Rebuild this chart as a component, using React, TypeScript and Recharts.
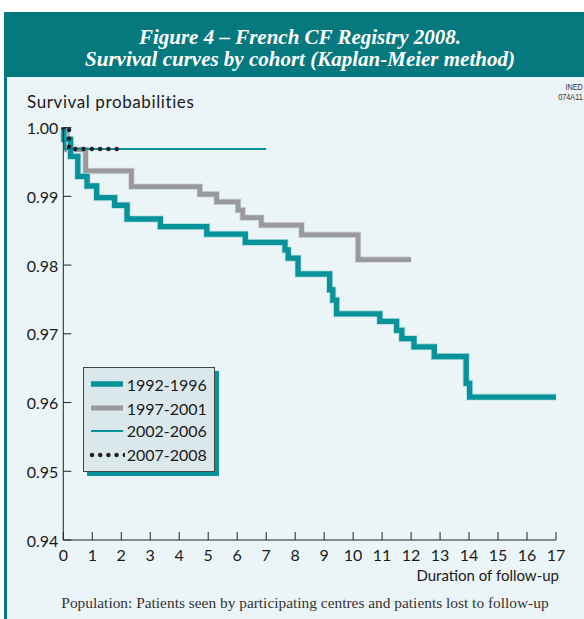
import { LineChart, Line, XAxis, YAxis } from 'recharts'

// follow-up years and survival probabilities
const years = [0, 1, 2, 3, 4, 5, 6, 7, 8, 9, 10, 11, 12, 13, 14, 15, 16, 17]
const probTicks = [0.94, 0.95, 0.96, 0.97, 0.98, 0.99, 1.0]

const t9296 = [0, 0.02, 0.25, 0.5, 0.82, 1.15, 1.77, 2.2, 3.35, 4.95, 6.28, 7.65, 7.76, 8.1, 9.19, 9.3, 9.43, 10.92, 11.5, 11.68, 12.1, 12.8, 13.9, 14.02, 17]
const s9296 = [1.0, 0.9983, 0.9958, 0.9929, 0.9915, 0.9898, 0.9887, 0.9867, 0.9856, 0.9845, 0.9833, 0.9822, 0.981, 0.9787, 0.9764, 0.9749, 0.9729, 0.9718, 0.9705, 0.9693, 0.9681, 0.9667, 0.9628, 0.9608, 0.9608]

const t9701 = [0, 0.12, 0.77, 2.35, 4.71, 5.29, 6.03, 6.19, 6.83, 8.22, 10.17, 12]
const s9701 = [1.0, 0.9968, 0.9937, 0.9914, 0.9903, 0.9892, 0.988, 0.9869, 0.9858, 0.9844, 0.9808, 0.9808]

const t0206 = [0, 0.05, 7]
const s0206 = [1.0, 0.9969, 0.9969]

const t0708 = [0, 0.2, 1.85]
const s0708 = [1.0, 0.9969, 0.9969]

const toRows = (t: number[], s: number[]) => t.map((x, i) => ({ t: x, s: s[i] }))

const TEAL = '#08929a'
const GREY = '#9a9a9e'
const HEAD = '#06797f'
const PANEL = '#ebf4f7'
const sans = 'Lato, "Noto Sans", sans-serif'

const BottomTick = (p: any) => (
  <g>
    <line x1={p.x} y1={p.y} x2={p.x} y2={p.y - 8} stroke="#222" strokeWidth={1} />
    <text x={p.x} y={p.y + 14} textAnchor="middle" dominantBaseline="central" fontSize={16} fontFamily={sans} fill="#1a1a1a">
      {p.payload.value}
    </text>
  </g>
)
const TopTick = (p: any) => <line x1={p.x} y1={p.y} x2={p.x} y2={p.y + 8} stroke="#222" strokeWidth={1} />
const LeftTick = (p: any) => (
  <g>
    <line x1={p.x} y1={p.y} x2={p.x + 8} y2={p.y} stroke="#222" strokeWidth={1} />
    <text x={p.x - 5} y={p.y} textAnchor="end" dominantBaseline="central" fontSize={16} fontFamily={sans} fill="#1a1a1a">
      {p.payload.value.toFixed(2)}
    </text>
  </g>
)
const RightTick = (p: any) => <line x1={p.x} y1={p.y} x2={p.x - 8} y2={p.y} stroke="#555" strokeWidth={1.2} />

function LegendRow({ y, label, kind }: { y: number; label: string; kind: string }) {
  return (
    <div style={{ position: 'absolute', left: 5, top: y - 10, height: 20, display: 'flex', alignItems: 'center' }}>
      <svg width={36} height={20}>
        {kind === 'thick' && <line x1={2} y1={10} x2={34} y2={10} stroke={TEAL} strokeWidth={5.5} />}
        {kind === 'grey' && <line x1={2} y1={10} x2={34} y2={10} stroke={GREY} strokeWidth={5} />}
        {kind === 'thin' && <line x1={2} y1={10} x2={34} y2={10} stroke={TEAL} strokeWidth={2} />}
        {kind === 'dots' && (
          <line x1={3} y1={10} x2={36} y2={10} stroke="#222" strokeWidth={4.5} strokeLinecap="round" strokeDasharray="0 8.2" />
        )}
      </svg>
      <span style={{ fontFamily: sans, fontSize: 16, color: '#1a1a1a', marginLeft: 2 }}>{label}</span>
    </div>
  )
}

export default function App() {
  return (
    <div style={{ position: 'absolute', left: 0, top: 0, width: 584, height: 619, background: '#fff', overflow: 'hidden' }}>
      <div style={{ position: 'absolute', left: 4, top: 12, width: 600, height: 620, background: HEAD }} />
      <div style={{ position: 'absolute', left: 7, top: 77, width: 600, height: 560, background: PANEL }} />
      <div
        style={{
          position: 'absolute', left: 0, top: 26, width: 600, textAlign: 'center', color: '#fff',
          fontFamily: '"Liberation Serif", serif', fontStyle: 'italic', fontWeight: 'bold', fontSize: 21, lineHeight: '22px',
        }}
      >
        Figure 4 – French CF Registry 2008.
        <br />
        Survival curves by cohort (Kaplan-Meier method)
      </div>
      <div style={{ position: 'absolute', right: 1, top: 82, textAlign: 'right', fontFamily: '"Liberation Sans", sans-serif', fontSize: 8.5, lineHeight: '10px', color: '#333', transform: 'scaleX(0.85)', transformOrigin: 'right' }}>
        INED
        <br />
        074A11
      </div>
      <div style={{ position: 'absolute', left: 27, top: 91, fontFamily: sans, fontSize: 17, letterSpacing: 0.6, color: '#1a1a1a' }}>Survival probabilities</div>
      <div style={{ position: 'absolute', right: 25, top: 566, fontFamily: sans, fontSize: 15, color: '#1a1a1a' }}>Duration of follow-up</div>
      <div style={{ position: 'absolute', left: 0, width: 610, top: 594, textAlign: 'center', fontFamily: '"Liberation Serif", serif', fontSize: 15.4, color: '#333' }}>
        Population: Patients seen by participating centres and patients lost to follow-up
      </div>

      <div style={{ position: 'absolute', left: 0, top: 0 }}>
        <LineChart width={584} height={619} margin={{ top: 127.6, right: 28, left: 0, bottom: 0 }}>
          <XAxis xAxisId="b" type="number" dataKey="t" domain={[0, 17]} ticks={years} height={79} interval={0}
            axisLine={{ stroke: '#222', strokeWidth: 1 }} tickLine={false} tickSize={0} tickMargin={0} tick={BottomTick} />
          <XAxis xAxisId="top" orientation="top" type="number" dataKey="t" domain={[0, 17]} ticks={years} height={0} interval={0}
            axisLine={{ stroke: '#222', strokeWidth: 1 }} tickLine={false} tickSize={0} tickMargin={0} tick={TopTick} />
          <YAxis yAxisId="l" type="number" domain={[0.94, 1.0]} ticks={probTicks} width={63.3} interval={0} allowDataOverflow
            axisLine={{ stroke: '#222', strokeWidth: 1 }} tickLine={false} tickSize={0} tickMargin={0} tick={LeftTick} />
          <YAxis yAxisId="r" orientation="right" type="number" domain={[0.94, 1.0]} ticks={probTicks} width={0} interval={0}
            axisLine={{ stroke: '#808080', strokeWidth: 2 }} tickLine={false} tickSize={0} tickMargin={0} tick={RightTick} />

          <Line xAxisId="b" yAxisId="l" data={toRows(t9701, s9701)} dataKey="s" type="stepAfter" stroke="#d6d8da" strokeWidth={6.5} dot={false} isAnimationActive={false} />
          <Line xAxisId="b" yAxisId="l" data={toRows(t9701, s9701)} dataKey="s" type="stepAfter" stroke={GREY} strokeWidth={4.8} dot={false} isAnimationActive={false} />
          <Line xAxisId="b" yAxisId="l" data={toRows(t9296, s9296)} dataKey="s" type="stepAfter" stroke="#b8e0e2" strokeWidth={7} dot={false} isAnimationActive={false} />
          <Line xAxisId="b" yAxisId="l" data={toRows(t9296, s9296)} dataKey="s" type="stepAfter" stroke={TEAL} strokeWidth={5.3} dot={false} isAnimationActive={false} />
          <Line xAxisId="b" yAxisId="l" data={toRows(t0206, s0206)} dataKey="s" type="stepAfter" stroke={TEAL} strokeWidth={2} dot={false} isAnimationActive={false} />
          <Line xAxisId="b" yAxisId="l" data={toRows(t0708, s0708)} dataKey="s" type="stepAfter" stroke="#222" strokeWidth={4.5}
            strokeLinecap="round" strokeDasharray="0 8.3" dot={false} isAnimationActive={false} />
        </LineChart>
      </div>

      <div style={{ position: 'absolute', left: 82.7, top: 367.3, width: 130, height: 103, background: '#dbe8eb', border: '1px solid #444', boxShadow: `4px 4px 0 ${TEAL}` }}>
        <LegendRow y={16} label="1992-1996" kind="thick" />
        <LegendRow y={40} label="1997-2001" kind="grey" />
        <LegendRow y={62.5} label="2002-2006" kind="thin" />
        <LegendRow y={86.5} label="2007-2008" kind="dots" />
      </div>
    </div>
  )
}
